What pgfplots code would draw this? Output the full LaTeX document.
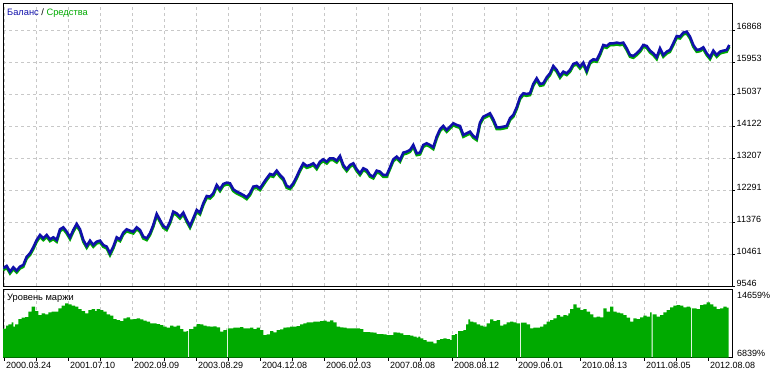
\documentclass[border=0pt]{standalone}
\usepackage{pgfplots}
\pgfplotsset{compat=1.18}
\usepackage{fontspec}
\setmainfont{Liberation Sans}
\definecolor{bal}{RGB}{16,16,170}
\definecolor{eq}{RGB}{0,170,0}
\definecolor{gridc}{RGB}{200,200,200}

\pgfplotstableread{
x v
3.3 10052
6.7 10119
10 9956
13.3 10080
16.7 9985
20 10099
23.3 10147
26.7 10385
30 10481
33.3 10652
36.7 10862
40 11005
43.3 10910
46.7 11005
50 10881
53.3 10938
56.7 10862
60 11167
63.3 11224
66.7 11100
70 10938
73.3 11148
76.7 11320
80 11167
83.3 10862
86.7 10690
90 10843
93.3 10719
96.7 10815
100 10843
103.3 10719
106.7 10671
110 10481
113.3 10671
116.7 10938
120 10881
123.3 11072
126.7 11167
130 11129
133.3 11100
136.7 11224
140 11148
143.3 10957
146.7 10910
150 11053
153.3 11291
156.7 11606
160 11434
163.3 11263
166.7 11196
170 11386
173.3 11672
176.7 11625
180 11530
183.3 11644
186.7 11434
190 11263
193.3 11482
196.7 11720
200 11644
203.3 11911
206.7 12120
210 12101
213.3 12197
216.7 12435
220 12311
223.3 12464
226.7 12502
230 12483
233.3 12311
236.7 12244
240 12197
243.3 12149
246.7 12082
250 12197
253.3 12388
256.7 12407
260 12340
263.3 12483
266.7 12626
270 12750
273.3 12721
276.7 12845
280 12721
283.3 12626
286.7 12407
290 12368
293.3 12483
296.7 12674
300 12883
303.3 13055
306.7 12978
310 13007
313.3 13055
316.7 12940
320 13102
323.3 13169
326.7 13102
330 13198
333.3 13198
336.7 13131
340 13264
343.3 13007
346.7 12883
350 13007
353.3 13055
356.7 12883
360 12769
363.3 12912
366.7 12864
370 12721
373.3 12674
376.7 12845
380 12817
383.3 12721
386.7 12721
390 12940
393.3 13169
396.7 13245
400 13150
403.3 13360
406.7 13388
410 13436
413.3 13579
416.7 13341
420 13360
423.3 13579
426.7 13627
430 13579
433.3 13512
436.7 13817
440 14027
443.3 14122
446.7 14008
450 14103
453.3 14199
456.7 14151
460 14122
463.3 13865
466.7 13913
470 13960
473.3 13837
476.7 13770
480 14220
483.3 14389
486.7 14437
490 14485
493.3 14313
496.7 14084
500 14084
503.3 14103
506.7 14122
510 14342
513.3 14437
516.7 14656
520 14942
523.3 15057
526.7 15038
530 15057
533.3 15324
536.7 15486
540 15324
543.3 15343
546.7 15514
550 15629
553.3 15838
556.7 15724
560 15553
563.3 15676
566.7 15629
570 15724
573.3 15896
576.7 15934
580 15819
583.3 15934
586.7 15705
590 15962
593.3 16029
596.7 16010
600 16201
603.3 16439
606.7 16410
610 16487
613.3 16487
616.7 16506
620 16487
623.3 16506
626.7 16344
630 16153
633.3 16124
636.7 16201
640 16296
643.3 16439
646.7 16410
650 16277
653.3 16201
656.7 16086
660 16344
663.3 16153
666.7 16248
670 16296
673.3 16487
676.7 16696
680 16677
683.3 16792
686.7 16820
690 16677
693.3 16439
696.7 16296
700 16315
703.3 16372
706.7 16201
710 16086
713.3 16277
716.7 16153
720 16248
723.3 16277
726.7 16296
729.3 16439
}\balance

\pgfplotstableread{
x m
3 10143
6 10485
8.3 10636
11.7 10864
13.3 10371
15 10636
18.3 11243
21.7 11395
25 11471
28.3 12078
31.7 12647
35 12153
38.3 11698
41.7 11888
45 11774
48.3 12002
51.7 12078
55 12078
58.3 12457
61.7 12760
65 13026
68.3 12912
71.7 12760
75 12647
78.3 12381
81.7 12153
85 11888
88.3 12267
91.7 12381
95 12153
96.7 12381
100 12267
103.3 12078
106.7 11774
110 11622
113.3 11243
116.7 11129
120 11016
123.3 11319
126.7 11433
130 11205
133.3 11243
136.7 11319
140 11205
143.3 11053
146.7 10940
150 10750
153.3 10750
156.7 10674
160 10560
163.3 10371
166.7 10257
170 10485
173.3 10371
176.7 10485
180 10105
183.3 9802
186.7 9878
188 6839
189 10105
193.3 10371
196.7 10674
200 10636
203.3 10485
206.7 10409
210 10371
213.3 10409
216.7 10295
220 9802
223.3 9991
226.7 10181
227 6839
228 10181
230 10181
233.3 10257
236.7 10257
240 10333
243.3 10181
246.7 10181
250 10257
253.3 10105
256.7 10257
260 9991
263.3 9422
266.7 9498
270 9878
273.3 9726
276.7 9991
280 10067
283.3 10257
286.7 10295
290 10371
293.3 10371
296.7 10447
300 10636
303.3 10750
306.7 10864
310 10864
313.3 10940
316.7 10940
320 11016
323.3 11053
326.7 10940
330 11091
333.3 10864
336.7 10371
340 10295
343.3 10257
346.7 10181
350 10181
353.3 10181
356.7 10181
360 10105
363.3 9764
370 9726
373.3 9688
376.7 9536
383.3 9498
386.7 9422
390 9422
393.3 9726
396.7 9688
400 9612
403.3 9422
410 9347
413.3 9233
416.7 9119
418.3 9233
420 9043
423.3 8854
426.7 8664
430 8664
433.3 8474
436.7 8854
440 8967
443.3 9043
446.7 8967
450 8854
451.7 9422
455 9536
457 6839
458 9878
460 9878
463.3 9991
466 10636
468.3 11205
470 10940
473.3 10864
476.7 10636
480 10485
483.3 10371
486.7 10750
490 11205
493.3 11016
496.7 11129
500 10485
503.3 10636
506.7 10864
510 10940
513.3 10864
516.7 10750
520 6839
521 10826
523.3 10826
526.7 10636
530 10181
533.3 10257
536.7 10257
540 10371
543.3 10636
546.7 10940
550 11129
553.3 11319
556.7 11698
560 11509
563.3 11698
566.7 11622
568.3 11888
570 12381
573.3 12912
576.7 12533
580 12267
583.3 12381
586.7 12078
590 11774
593.3 11433
596.7 11509
600 11433
603.3 12457
606.7 12078
610 12647
613.3 12078
616.7 11964
620 11888
623.3 11698
626.7 11395
630 10940
633.3 11319
636.7 11243
640 11433
643.3 11622
646.7 11509
650 12002
651.5 6839
652.5 11774
653.3 11774
656.7 11509
660 11698
663.3 12002
666.7 12267
670 12571
673.3 12760
676.7 12836
680 12760
683.3 12571
686.7 12647
690 12533
691 6839
692 12457
693.3 12457
696.7 12381
700 12836
703.3 12912
706.7 13140
710 12912
713.3 12647
716.7 12381
720 12457
723.3 12647
726.7 12533
728.7 12533
}\margin

\begin{document}
\begin{tikzpicture}[font=\fontsize{9}{10}\selectfont]
\useasboundingbox (0,0) rectangle (775pt,-373pt);
\pgfplotsset{
  mt/.style={
    scale only axis, width=729pt, xmin=3, xmax=732,
    scaled x ticks=false, scaled y ticks=false,
    axis line style={line width=1pt, black},
    xmajorgrids=true, xminorgrids=true,
    major grid style={gridc, dash pattern=on 3pt off 3pt, line width=0.8pt},
    minor grid style={gridc, dash pattern=on 3pt off 3pt, line width=0.8pt},
    xtick={4,68,132,196,260,324,388,452,516,580,644,708},
    minor xtick={36,100,164,228,292,356,420,484,548,612,676},
    tick align=outside, major tick length=3pt, minor tick length=3pt,
    tick style={black, line width=0.8pt},
    ytick pos=right, yticklabel pos=right, xtick pos=bottom,
    ticklabel style={font=\fontsize{9}{10}\selectfont, text=black},
  }
}
\begin{axis}[mt, at={(3pt,-3pt)}, anchor=north west, height=283pt,
  ymin=9546, ymax=17640,
  ytick={9546,10461,11376,12291,13207,14122,15037,15953,16868},
  yticklabels={9546,10461,11376,12291,13207,14122,15037,15953,16868},
  ymajorgrids=true,
  yticklabel style={anchor=base west, inner sep=0pt, xshift=1.5pt},
  xticklabels={}, xtick style={draw=none},
]
\addplot[eq, line width=2.6pt, yshift=-1.8pt] table[x=x,y=v] {\balance};
\addplot[bal, line width=2.6pt] table[x=x,y=v] {\balance};
\node[anchor=base west, inner sep=0pt] at (rel axis cs:0,1) [xshift=4pt, yshift=-12pt]
  {\fontsize{9.3}{10}\selectfont\textcolor{bal}{Баланс} / \textcolor{eq}{Средства}};
\end{axis}

\begin{axis}[mt, at={(3pt,-289pt)}, anchor=north west, height=68.7pt,
  ymin=6839, ymax=14659, clip=false,
  ytick={6839,14659}, yticklabels={,},
  ytick style={draw=none},
  xticklabels={2000.03.24,2001.07.10,2002.09.09,2003.08.29,2004.12.08,2006.02.03,2007.08.08,2008.08.12,2009.06.01,2010.08.13,2011.08.05,2012.08.08},
  xticklabel style={anchor=north west, inner sep=0pt, xshift=2pt, yshift=-1pt},
]
\addplot[const plot, fill=eq, draw=none] table[x=x,y=m] {\margin} \closedcycle;
\node[anchor=base west, inner sep=0pt] at (rel axis cs:0,1) [xshift=4pt, yshift=-11.7pt]
  {\fontsize{9.3}{10}\selectfont Уровень маржи};
\node[anchor=north west, inner sep=0pt] at (rel axis cs:1,1) [xshift=5pt, yshift=-3.5pt] {14659\%};
\node[anchor=base west, inner sep=0pt] at (rel axis cs:1,0) [xshift=5pt, yshift=1.5pt] {6839\%};
\end{axis}
\end{tikzpicture}
\end{document}
